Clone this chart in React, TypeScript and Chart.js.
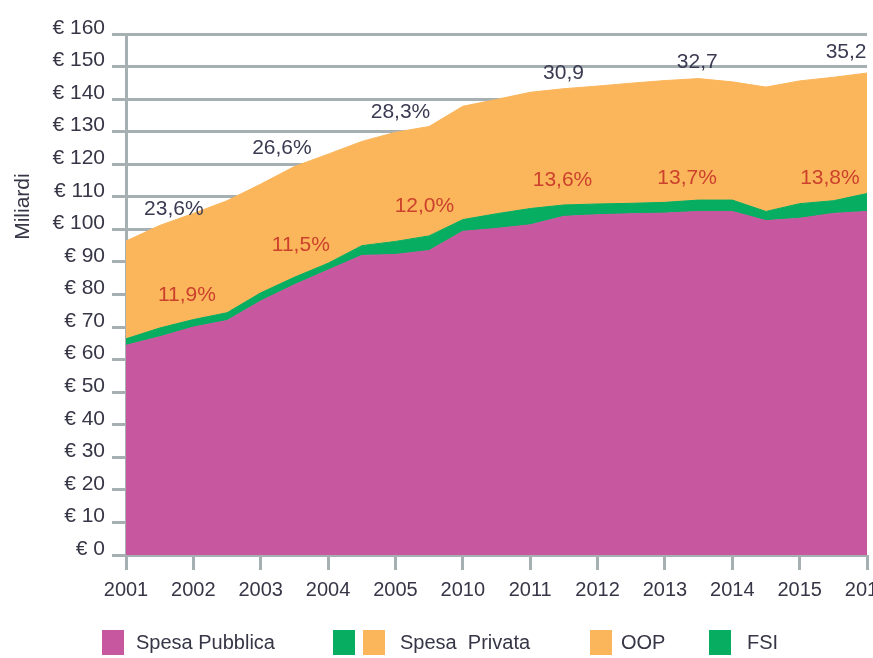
import React, { useEffect, useRef } from "react";
import { Chart, registerables } from "chart.js";

Chart.register(...registerables);

// Year labels (ticks)
const years = ["2001", "2002", "2003", "2004", "2005", "2010", "2011", "2012", "2013", "2014", "2015", "2016"];

// Values (billions €) read at each year and midway between consecutive years
const spesaPubblica = [64.4, 67.0, 70.0, 72.0, 78.0, 83.0, 87.5, 92.0, 92.3, 93.5, 99.4, 100.3, 101.4, 104.0, 104.5, 104.8, 105.0, 105.5, 105.5, 102.7, 103.4, 104.9, 105.5];
const fsi = [2.0, 2.7, 2.3, 2.4, 2.5, 2.3, 2.1, 3.0, 4.0, 4.5, 3.6, 4.5, 5.0, 3.5, 3.3, 3.2, 3.3, 3.5, 3.5, 2.8, 4.5, 3.9, 5.5];
const oop = [30.0, 31.5, 32.6, 34.4, 33.4, 34.0, 33.5, 32.0, 33.5, 33.6, 34.8, 35.1, 35.7, 35.7, 36.2, 36.9, 37.4, 37.3, 36.3, 38.2, 37.7, 37.9, 37.0];

// Annotations (anchor in data space: half-year index, value)
const quotaPrivata = ["23,6%", "26,6%", "28,3%", "30,9", "32,7", "35,2"];
const quotaPrivataX = [1.42, 4.63, 8.15, 12.99, 16.96, 21.38];
const quotaPrivataY = [106.3, 125, 136, 148, 151.4, 154.5];
const quotaFsi = ["11,9%", "11,5%", "12,0%", "13,6%", "13,7%", "13,8%"];
const quotaFsiX = [1.81, 5.19, 8.86, 12.96, 16.66, 20.9];
const quotaFsiY = [79.9, 95.2, 107.2, 115.2, 115.8, 115.8];

const yTitle = "Miliardi";
const yTitleValue = 107;

const PINK = "#c7579f";
const GREEN = "#07ad60";
const ORANGE = "#fbb65c";
const GRID = "#a6afb2";
const TEXT = "#363646";
const RED = "#cc412c";
const FONT = "'Liberation Sans', Arial, sans-serif";

const labels = spesaPubblica.map((_, i) => (i % 2 === 0 ? years[i / 2] : ""));

const annotPlugin = {
  id: "annotations",
  afterDraw(chart: any) {
    const { ctx, scales } = chart;
    const x = scales.x;
    const y = scales.y;
    ctx.save();
    ctx.font = "21px " + FONT;
    ctx.textAlign = "center";
    ctx.textBaseline = "middle";
    ctx.fillStyle = "#3a3a52";
    quotaPrivata.forEach((t, i) => {
      ctx.fillText(t, x.getPixelForValue(quotaPrivataX[i]), y.getPixelForValue(quotaPrivataY[i]));
    });
    ctx.fillStyle = RED;
    quotaFsi.forEach((t, i) => {
      ctx.fillText(t, x.getPixelForValue(quotaFsiX[i]), y.getPixelForValue(quotaFsiY[i]));
    });
    ctx.fillStyle = TEXT;
    ctx.font = "21px " + FONT;
    ctx.translate(23, y.getPixelForValue(yTitleValue));
    ctx.rotate(-Math.PI / 2);
    ctx.fillText(yTitle, 0, 0);
    ctx.restore();
  },
};

export default function App() {
  const ref = useRef<HTMLCanvasElement | null>(null);

  useEffect(() => {
    if (!ref.current) return;
    Chart.defaults.font.family = FONT;
    const chart = new Chart(ref.current, {
      type: "line",
      data: {
        labels,
        datasets: [
          {
            label: "Spesa Pubblica",
            data: spesaPubblica,
            backgroundColor: PINK,
            borderColor: PINK,
            borderWidth: 1,
            pointRadius: 0,
            fill: "origin",
            tension: 0,
          },
          {
            label: "FSI",
            data: fsi,
            backgroundColor: GREEN,
            borderColor: GREEN,
            borderWidth: 1,
            pointRadius: 0,
            fill: "-1",
            tension: 0,
          },
          {
            label: "OOP",
            data: oop,
            backgroundColor: ORANGE,
            borderColor: ORANGE,
            borderWidth: 1,
            pointRadius: 0,
            fill: "-1",
            tension: 0,
          },
        ],
      },
      options: {
        animation: false,
        responsive: true,
        maintainAspectRatio: false,
        layout: { autoPadding: false, padding: { left: 0, right: 6, top: 34, bottom: 43 } },
        plugins: { legend: { display: false }, tooltip: { enabled: false } },
        scales: {
          x: {
            stacked: true,
            offset: false,
            z: 1,
            afterFit: (s: any) => {
              s.height = 60;
              s.paddingLeft = 0;
              s.paddingRight = 0;
            },
            border: { display: false },
            grid: {
              display: true,
              drawOnChartArea: false,
              drawTicks: true,
              tickLength: 15,
              tickWidth: 3,
              lineWidth: 3,
              color: (c: any) => (c.index % 2 === 0 ? GRID : "rgba(0,0,0,0)"),
              tickColor: (c: any) => (c.index % 2 === 0 ? GRID : "rgba(0,0,0,0)"),
            },
            ticks: {
              autoSkip: false,
              maxRotation: 0,
              minRotation: 0,
              padding: 8,
              color: TEXT,
              font: { size: 20, family: FONT },
            },
          },
          y: {
            stacked: true,
            min: 0,
            max: 160,
            z: 1,
            afterFit: (s: any) => {
              s.width = 126;
              s.paddingTop = 0;
              s.paddingBottom = 0;
            },
            border: { display: true, color: GRID, width: 3 },
            grid: {
              color: GRID,
              lineWidth: 3,
              drawTicks: true,
              tickLength: 14,
              tickWidth: 3,
              tickColor: GRID,
            },
            ticks: {
              stepSize: 10,
              padding: 7,
              labelOffset: -6,
              color: TEXT,
              font: { size: 21, family: FONT },
              callback: (v: any) => "€ " + v,
            },
          },
        },
      },
      plugins: [annotPlugin],
    });
    return () => chart.destroy();
  }, []);

  const sq = (left: number, color: string) => (
    <div style={{ position: "absolute", left, top: 630, width: 22, height: 25, background: color }} />
  );
  const txt = (left: number, s: string) => (
    <div
      style={{
        position: "absolute",
        left,
        top: 630,
        height: 25,
        lineHeight: "25px",
        fontSize: 20,
        fontFamily: FONT,
        color: TEXT,
        whiteSpace: "pre",
      }}
    >
      {s}
    </div>
  );

  return (
    <div style={{ position: "fixed", left: 0, top: 0, width: 873, height: 658, overflow: "hidden", background: "#fff" }}>
      <div style={{ position: "absolute", left: 0, top: 0, width: 873, height: 658 }}>
        <canvas ref={ref} />
      </div>
      {sq(102, PINK)}
      {txt(136, "Spesa Pubblica")}
      {sq(333, GREEN)}
      {sq(363, ORANGE)}
      {txt(400, "Spesa  Privata")}
      {sq(590, ORANGE)}
      {txt(621, "OOP")}
      {sq(709, GREEN)}
      {txt(747, "FSI")}
    </div>
  );
}
